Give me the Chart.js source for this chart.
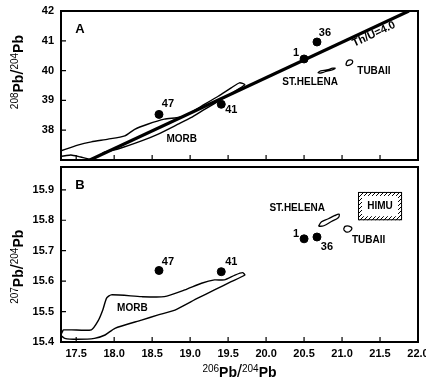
<!DOCTYPE html>
<html>
<head>
<meta charset="utf-8">
<script src="https://cdn.jsdelivr.net/npm/chart.js@4.4.1/dist/chart.umd.min.js"></script>
<style>
  body { margin: 0; background: #fff; }
  #wrap { position: relative; width: 426px; height: 384px; }
  canvas { position: absolute; left: 0; top: 0; }
</style>
</head>
<body>
<div id="wrap">
  <canvas id="chartA" width="426" height="384"></canvas>
  <canvas id="chartB" width="426" height="384"></canvas>
</div>
<script>
// tick labels
var xTicks = [17.5, 18.0, 18.5, 19.0, 19.5, 20.0, 20.5, 21.0, 21.5, 22.0];
var yTicksA = [38, 39, 40, 41, 42];
var yTicksB = [15.4, 15.5, 15.6, 15.7, 15.8, 15.9];

// samples (206Pb/204Pb, 208Pb/204Pb, 207Pb/204Pb)
var sampleNames = ['47', '41', '1', '36'];
var sample206 = [18.59, 19.41, 20.50, 20.67];
var sample208 = [38.53, 38.87, 40.39, 40.96];
var sample207 = [15.635, 15.631, 15.739, 15.745];

// Th/U = 4.0 reference line
var thuX = [17.68, 21.88];
var thuY = [37.0, 42.0];

// MORB field, panel A
var morbAx = [17.30, 17.52, 17.70, 17.92, 18.14, 18.27, 18.44, 18.66, 18.82, 18.93, 19.15, 19.37, 19.54, 19.65, 19.72,
              19.63, 19.45, 19.19, 19.01, 18.84, 18.58, 18.36, 18.05, 17.87, 17.79, 17.70, 17.56, 17.43, 17.30, 17.30];
var morbAy = [37.31, 37.50, 37.61, 37.70, 37.81, 38.03, 38.20, 38.37, 38.42, 38.48, 38.81, 39.14, 39.42, 39.59, 39.53,
              39.37, 39.09, 38.70, 38.42, 38.20, 37.87, 37.64, 37.37, 37.26, 37.12, 37.03, 37.10, 37.17, 37.13, 37.31];

// MORB field, panel B
var morbBx = [17.33, 17.44, 17.70, 17.79, 17.85, 17.90, 17.96, 18.36, 18.66, 18.93, 19.15, 19.32, 19.45, 19.59, 19.69, 19.72,
              19.54, 19.32, 19.10, 18.80, 18.58, 18.36, 18.01, 17.88, 17.74, 17.52, 17.35, 17.30, 17.33];
var morbBy = [15.440, 15.440, 15.440, 15.470, 15.505, 15.544, 15.555, 15.549, 15.549, 15.571, 15.593, 15.604, 15.604, 15.620, 15.628, 15.620,
              15.598, 15.571, 15.544, 15.505, 15.489, 15.472, 15.445, 15.423, 15.412, 15.409, 15.412, 15.423, 15.440];

// St. Helena and Tubaii fields
var helenaAx = [20.68, 20.72, 20.80, 20.88, 20.91, 20.88, 20.80, 20.72, 20.68];
var helenaAy = [39.93, 39.99, 40.02, 40.08, 40.08, 40.03, 39.98, 39.92, 39.93];
var tubaiiAx = [21.05, 21.07, 21.11, 21.14, 21.12, 21.07, 21.05];
var tubaiiAy = [40.20, 40.32, 40.36, 40.31, 40.21, 40.17, 40.20];
var helenaBx = [20.69, 20.73, 20.82, 20.90, 20.96, 20.95, 20.86, 20.76, 20.69];
var helenaBy = [15.780, 15.795, 15.805, 15.815, 15.820, 15.808, 15.796, 15.782, 15.780];
var tubaiiBx = [21.02, 21.04, 21.09, 21.13, 21.10, 21.05, 21.02];
var tubaiiBy = [15.770, 15.780, 15.781, 15.774, 15.763, 15.762, 15.770];

// HIMU box
var himuX = [21.21, 21.79];
var himuY = [15.800, 15.893];

// field labels
var labelsA = [['MORB', 18.89, 37.70], ['ST.HELENA', 20.58, 39.62], ['TUBAII', 21.42, 39.99]];
var labelsB = [['MORB', 18.24, 15.51], ['ST.HELENA', 20.41, 15.84], ['TUBAII', 21.35, 15.733], ['HIMU', 21.50, 15.847]];

var FONT = "'Liberation Sans', Arial, sans-serif";
Chart.defaults.font.family = FONT;
Chart.defaults.color = '#000';

function pts(xs, ys) {
    return xs.map(function (x, i) { return {x: x, y: ys[i]}; });
}

function outline(xs, ys, w, t) {
    return {data: pts(xs, ys), showLine: true, borderColor: '#000', borderWidth: w,
            pointRadius: 0, fill: false, tension: t};
}

function drawIso(ctx, cx, cy, mass, rot) {
    var parts = [
        {t: mass, f: '10px ' + FONT, dy: -4},
        {t: 'Pb', f: 'bold 14px ' + FONT, dy: 0},
        {t: '/', f: '18px ' + FONT, dy: -1},
        {t: '204', f: '10px ' + FONT, dy: -4},
        {t: 'Pb', f: 'bold 14px ' + FONT, dy: 0}
    ];
    ctx.save();
    ctx.translate(cx, cy);
    ctx.rotate(rot);
    var w = 0;
    parts.forEach(function (p) { ctx.font = p.f; p.w = ctx.measureText(p.t).width; w += p.w; });
    var x = -w / 2;
    ctx.textBaseline = 'middle';
    ctx.textAlign = 'left';
    ctx.fillStyle = '#000';
    parts.forEach(function (p) { ctx.font = p.f; ctx.fillText(p.t, x, p.dy); x += p.w; });
    ctx.restore();
}

function hatch() {
    var c = document.createElement('canvas');
    c.width = 4; c.height = 4;
    var g = c.getContext('2d');
    g.strokeStyle = '#000';
    g.lineWidth = 1;
    g.beginPath();
    g.moveTo(0, 4); g.lineTo(4, 0);
    g.moveTo(-1, 1); g.lineTo(1, -1);
    g.moveTo(3, 5); g.lineTo(5, 3);
    g.stroke();
    return c;
}

function panelPlugin(cfg) {
    return {
        id: 'panel' + cfg.letter,
        afterDraw: function (chart) {
            var ctx = chart.ctx, a = chart.chartArea;
            var xs = chart.scales.x, ys = chart.scales.y;
            ctx.save();
            // frame
            ctx.strokeStyle = '#000';
            ctx.lineWidth = 2;
            ctx.strokeRect(a.left, a.top, a.right - a.left, a.bottom - a.top);
            // inward ticks
            ctx.lineWidth = 1.2;
            ctx.beginPath();
            xTicks.forEach(function (v) {
                var p = xs.getPixelForValue(v);
                ctx.moveTo(p, a.bottom); ctx.lineTo(p, a.bottom - 5);
            });
            cfg.yTicks.forEach(function (v) {
                var p = ys.getPixelForValue(v);
                ctx.moveTo(a.left, p); ctx.lineTo(a.left + 5, p);
            });
            ctx.stroke();

            // HIMU box
            if (cfg.himu) {
                var x0 = xs.getPixelForValue(himuX[0]), x1 = xs.getPixelForValue(himuX[1]);
                var y0 = ys.getPixelForValue(himuY[1]), y1 = ys.getPixelForValue(himuY[0]);
                ctx.fillStyle = ctx.createPattern(hatch(), 'repeat');
                ctx.fillRect(x0, y0, x1 - x0, y1 - y0);
                ctx.fillStyle = '#fff';
                ctx.fillRect(x0 + 4, y0 + 4, x1 - x0 - 8, y1 - y0 - 8);
                ctx.lineWidth = 1;
                ctx.strokeRect(x0 + 0.5, y0 + 0.5, x1 - x0 - 1, y1 - y0 - 1);
            }

            // field labels
            ctx.fillStyle = '#000';
            ctx.textAlign = 'center';
            ctx.textBaseline = 'middle';
            ctx.font = 'bold 10px ' + FONT;
            cfg.labels.forEach(function (l) {
                ctx.fillText(l[0], xs.getPixelForValue(l[1]), ys.getPixelForValue(l[2]));
            });
            // sample labels
            ctx.font = 'bold 11px ' + FONT;
            sampleNames.forEach(function (n, i) {
                var px = xs.getPixelForValue(sample206[i]) + cfg.offsets[i][0];
                var py = ys.getPixelForValue(cfg.values[i]) + cfg.offsets[i][1];
                ctx.fillText(n, px, py);
            });
            // panel letter
            ctx.font = 'bold 13px ' + FONT;
            ctx.fillText(cfg.letter, a.left + 19, a.top + 18);

            // Th/U label, just below the line
            if (cfg.thu) {
                var lx0 = xs.getPixelForValue(thuX[0]), ly0 = ys.getPixelForValue(thuY[0]);
                var lx1 = xs.getPixelForValue(thuX[1]), ly1 = ys.getPixelForValue(thuY[1]);
                var ang = Math.atan2(ly1 - ly0, lx1 - lx0);
                ctx.save();
                ctx.translate(xs.getPixelForValue(21.42), ys.getPixelForValue(41.22));
                ctx.rotate(ang);
                ctx.font = 'bold 11px ' + FONT;
                ctx.fillText('Th/U=4.0', 0, 0);
                ctx.restore();
            }

            // axis titles
            drawIso(ctx, 19, a.top + (a.bottom - a.top) * cfg.titlePos, cfg.mass, -Math.PI / 2);
            if (cfg.xTitle) {
                drawIso(ctx, (a.left + a.right) / 2, 373, '206', 0);
            }
            ctx.restore();
        }
    };
}

function makeScales(yMin, yMax, yTicks, showX, fmt) {
    return {
        x: {
            type: 'linear', min: 17.3, max: 22.0,
            afterBuildTicks: function (s) { s.ticks = xTicks.map(function (v) { return {value: v}; }); },
            grid: {display: false, drawTicks: false},
            border: {display: false},
            ticks: {display: showX, padding: 5, autoSkip: false, maxRotation: 0,
                    font: {size: 11, weight: 'bold'}, color: '#000',
                    callback: function (v) { return v.toFixed(1); }},
            afterFit: function (s) {
                s.height = showX ? 42 : 0;
                s.paddingLeft = 0;
                s.paddingRight = 0;
            }
        },
        y: {
            type: 'linear', min: yMin, max: yMax,
            afterBuildTicks: function (s) { s.ticks = yTicks.map(function (v) { return {value: v}; }); },
            grid: {display: false, drawTicks: false},
            border: {display: false},
            ticks: {padding: 7, font: {size: 11, weight: 'bold'}, color: '#000', callback: fmt},
            afterFit: function (s) {
                s.width = 61;
                s.paddingTop = 0;
                s.paddingBottom = 0;
            }
        }
    };
}

var common = {
    responsive: false,
    animation: false,
    events: [],
    plugins: {legend: {display: false}, tooltip: {enabled: false}}
};

var chartA = new Chart(document.getElementById('chartA').getContext('2d'), {
    type: 'scatter',
    data: {
        datasets: [
            outline(morbAx, morbAy, 1.4, 0.2),
            outline(helenaAx, helenaAy, 1.3, 0.4),
            outline(tubaiiAx, tubaiiAy, 1.3, 0.4),
            outline(thuX, thuY, 3.2, 0),
            {data: pts(sample206, sample208), pointRadius: 4, pointBackgroundColor: '#000',
             pointBorderColor: '#000', showLine: false}
        ]
    },
    options: Object.assign({}, common, {
        layout: {autoPadding: false, padding: {left: 0, top: 11, right: 8, bottom: 224}},
        scales: makeScales(37, 42, yTicksA, false, function (v) { return String(v); })
    }),
    plugins: [panelPlugin({letter: 'A', yTicks: yTicksA, labels: labelsA, values: sample208,
        offsets: [[9, -10], [10, 6], [-8, -6], [8, -9]], thu: true, himu: false,
        mass: '208', titlePos: 0.41, xTitle: false})]
});

var chartB = new Chart(document.getElementById('chartB').getContext('2d'), {
    type: 'scatter',
    data: {
        datasets: [
            outline(morbBx, morbBy, 1.4, 0.2),
            outline(helenaBx, helenaBy, 1.3, 0.4),
            outline(tubaiiBx, tubaiiBy, 1.3, 0.4),
            {data: pts(sample206, sample207), pointRadius: 4, pointBackgroundColor: '#000',
             pointBorderColor: '#000', showLine: false}
        ]
    },
    options: Object.assign({}, common, {
        layout: {autoPadding: false, padding: {left: 0, top: 167, right: 8, bottom: 0}},
        scales: makeScales(15.4, 15.975, yTicksB, true, function (v) { return v.toFixed(1); })
    }),
    plugins: [panelPlugin({letter: 'B', yTicks: yTicksB, labels: labelsB, values: sample207,
        offsets: [[9, -9], [10, -10], [-8, -5], [10, 10]], thu: false, himu: true,
        mass: '207', titlePos: 0.57, xTitle: true})]
});
</script>
</body>
</html>
